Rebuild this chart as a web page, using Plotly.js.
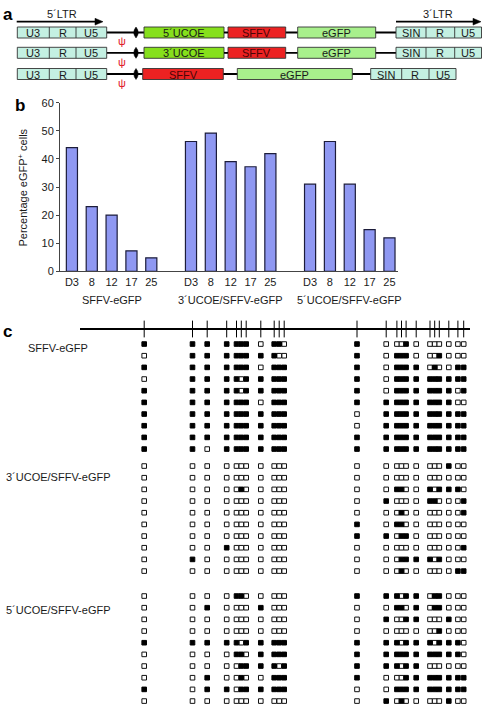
<!DOCTYPE html>
<html><head><meta charset="utf-8">
<script src="https://cdn.plot.ly/plotly-3.0.1.min.js"></script>
<style>html,body{margin:0;padding:0;background:#fff;}#chart{width:482px;height:710px;}</style>
</head><body><div id="chart"></div>
<script>
// ================= DATA =================
// Panel b: % eGFP+ cells at each time point (days)
const timepoints = ['D3', '8', '12', '17', '25'];
const vectors = ['SFFV-eGFP', '3´UCOE/SFFV-eGFP', '5´UCOE/SFFV-eGFP'];
const pctSFFV  = [44.0, 23.0, 20.0, 7.3, 4.8];
const pct3UCOE = [46.2, 49.2, 39.0, 37.2, 41.9];
const pct5UCOE = [31.0, 46.2, 31.0, 14.8, 11.9];

// Panel c: CpG site positions along the SFFV promoter map
const cpgPos = [144.2, 192.5, 207.2, 226.7, 236.5, 241.3, 246.2, 260.8, 274.2, 279.2, 284.2,
                357.0, 386.2, 396.9, 401.5, 406.1, 416.2, 430.0, 434.7, 439.3, 448.8, 457.9, 463.7];
// Methylation per clone (1 = methylated, 0 = unmethylated), one string per clone
const methSFFV = [
  '1 1 1 1 111 0 110 1 0 001 0 000 0 00',
  '0 1 1 1 111 1 100 1 0 111 0 001 0 00',
  '1 1 1 1 111 0 111 1 0 111 1 010 0 11',
  '0 1 1 1 101 1 111 1 0 111 1 111 1 11',
  '1 1 1 1 101 1 111 1 0 111 1 111 1 01',
  '1 1 1 1 111 0 111 1 1 111 1 111 1 00',
  '1 1 1 1 111 1 111 0 1 111 1 111 1 11',
  '1 1 1 1 111 1 111 0 1 111 1 111 1 11',
  '1 1 1 1 111 1 111 1 1 111 1 111 1 11',
  '1 1 0 1 111 1 111 1 1 111 1 111 1 11'
];
const meth3UCOE = [
  '0 0 0 0 000 0 000 0 0 000 0 000 1 00',
  '0 0 0 0 000 0 000 0 0 000 0 000 0 00',
  '0 0 0 0 010 0 000 0 0 110 0 101 1 10',
  '0 0 0 0 000 0 000 0 1 000 0 110 0 01',
  '0 0 0 0 000 0 000 0 0 010 0 000 0 01',
  '0 0 0 0 000 0 000 1 0 110 0 000 0 00',
  '0 0 0 0 000 0 000 1 1 011 0 000 0 00',
  '0 0 0 1 000 0 000 0 0 000 0 000 0 01',
  '0 1 0 0 000 0 000 0 0 011 1 101 0 00',
  '0 0 0 0 000 0 000 0 0 010 0 000 0 11'
];
const meth5UCOE = [
  '0 0 0 0 110 0 000 1 1 101 1 011 0 00',
  '0 0 1 0 000 1 000 0 0 110 1 011 0 00',
  '0 0 0 0 000 0 000 0 1 001 1 000 1 00',
  '0 0 0 0 000 0 000 0 0 000 0 001 0 00',
  '1 1 1 1 101 1 111 1 1 101 1 101 1 10',
  '0 0 0 0 110 1 111 1 1 111 1 111 1 10',
  '0 0 0 0 011 1 101 1 1 101 1 000 0 00',
  '0 0 1 0 010 0 111 1 0 001 1 111 1 11',
  '1 0 1 1 011 1 111 0 0 111 1 111 1 11',
  '0 0 0 0 000 0 000 0 1 010 0 000 1 00'
];

// ================= DRAWING =================
const F = 'Arial, "Liberation Sans", Helvetica, sans-serif';
const INK = '#1a1a1a';
const traces = [];
const shapes = [];
const annotations = [];

// ---- panel b: bars ----
const series = [pctSFFV, pct3UCOE, pct5UCOE];
const slotsPerGroup = timepoints.length + 1;
const barX = [], barY = [], tickVals = [], tickText = [];
series.forEach((vals, g) => {
  vals.forEach((v, i) => {
    const x = g * slotsPerGroup + i;
    barX.push(x); barY.push(v); tickVals.push(x); tickText.push(timepoints[i]);
  });
});
traces.push({
  type: 'bar', x: barX, y: barY, width: 0.56, xaxis: 'x', yaxis: 'y',
  marker: {color: '#8f98f2', line: {color: '#1c1c3a', width: 1.2}},
  hoverinfo: 'skip'
});
vectors.forEach((name, g) => {
  annotations.push({xref: 'x', yref: 'y2', x: g * slotsPerGroup + (timepoints.length - 1) / 2, y: 300,
    text: name, showarrow: false, xanchor: 'center', yanchor: 'middle', font: {family: F, size: 11, color: INK}});
});
annotations.push({xref: 'x2', yref: 'y2', x: 22.5, y: 188, textangle: -90, showarrow: false,
  text: 'Percentage eGFP<sup>+</sup> cells', font: {family: F, size: 11, color: INK}});

// ---- panel a: vector schematics (pixel coordinates on overlay axis) ----
const C = {ltr: '#c4f0e2', ucoe: '#86e01c', sffv: '#ec2222', egfp: '#a8f08c'};
function box(x0, x1, yc, fill, label, tcol) {
  shapes.push({type: 'rect', xref: 'x2', yref: 'y2', x0: x0, x1: x1, y0: yc - 5.5, y1: yc + 5.5,
    fillcolor: fill, line: {color: '#333', width: 0.9}, layer: 'above'});
  if (label) annotations.push({xref: 'x2', yref: 'y2', x: (x0 + x1) / 2, y: yc + 0.5, text: label, showarrow: false,
    font: {family: F, size: 11, color: tcol || INK}, xanchor: 'center', yanchor: 'middle'});
}
function ltr(x0, x1, d1, d2, yc, labels) {
  box(x0, x1, yc, C.ltr, null);
  [d1, d2].forEach(d => shapes.push({type: 'line', xref: 'x2', yref: 'y2', x0: d, x1: d, y0: yc - 5.5, y1: yc + 5.5,
    line: {color: '#333', width: 0.9}, layer: 'above'}));
  const edges = [x0, d1, d2, x1];
  labels.forEach((t, i) => annotations.push({xref: 'x2', yref: 'y2', x: (edges[i] + edges[i + 1]) / 2, y: yc + 0.5,
    text: t, showarrow: false, font: {family: F, size: 11, color: INK}, xanchor: 'center', yanchor: 'middle'}));
}
function construct(yc, psiY, parts, ltr3) {
  shapes.push({type: 'line', xref: 'x2', yref: 'y2', x0: 106.7, x1: ltr3[0], y0: yc, y1: yc,
    line: {color: '#000', width: 1.8}});
  ltr(17.3, 106.7, 49.3, 76, yc, ['U3', 'R', 'U5']);
  shapes.push({type: 'path', xref: 'x2', yref: 'y2',
    path: `M136,${yc - 5.5} Q140.5,${yc} 136,${yc + 5.5} Q131.5,${yc} 136,${yc - 5.5} Z`,
    fillcolor: '#000', line: {color: '#000', width: 0.5}});
  annotations.push({xref: 'x2', yref: 'y2', x: 121.7, y: psiY, text: 'ψ', showarrow: false,
    font: {family: F, size: 11, color: '#e0202a'}, xanchor: 'center', yanchor: 'middle'});
  parts.forEach(p => box(p[0], p[1], yc, p[2], p[3], p[4]));
  ltr(ltr3[0], ltr3[1], ltr3[2], ltr3[3], yc, ['SIN', 'R', 'U5']);
}
construct(32.5, 41, [[144, 224, C.ucoe, '5´UCOE'], [228, 285.7, C.sffv, 'SFFV', '#4a0606'], [297.7, 375.7, C.egfp, 'eGFP']],
  [396, 481.5, 426, 454.7]);
construct(52.8, 61.7, [[144, 224, C.ucoe, '3´UCOE'], [228, 285.7, C.sffv, 'SFFV', '#4a0606'], [297.7, 375.7, C.egfp, 'eGFP']],
  [396, 481.5, 426, 454.7]);
construct(74, 82.7, [[142.7, 223.3, C.sffv, 'SFFV', '#4a0606'], [237.3, 352.3, C.egfp, 'eGFP']],
  [370.7, 456, 401.7, 429]);
// connectors between UCOE and SFFV boxes
[32.5, 52.8].forEach(yc => shapes.push({type: 'line', xref: 'x2', yref: 'y2', x0: 224, x1: 228, y0: yc, y1: yc,
  line: {color: '#000', width: 1}}));
// LTR arrows
[[16.7, 96, 61.7, '5´LTR'], [396, 474, 438, '3´LTR']].forEach(a => {
  shapes.push({type: 'line', xref: 'x2', yref: 'y2', x0: a[0], x1: a[1], y0: 21.7, y1: 21.7, line: {color: '#000', width: 1.8}});
  shapes.push({type: 'path', xref: 'x2', yref: 'y2', path: `M${a[1] - 1},18.3 L${a[1] + 7},21.7 L${a[1] - 1},25.1 Z`,
    fillcolor: '#000', line: {color: '#000', width: 0.5}});
  annotations.push({xref: 'x2', yref: 'y2', x: a[2], y: 13.5, text: a[3], showarrow: false,
    font: {family: F, size: 11, color: INK}, xanchor: 'center', yanchor: 'middle'});
});

// ---- panel c: CpG map line + methylation squares ----
shapes.push({type: 'line', xref: 'x2', yref: 'y2', x0: 80, x1: 470, y0: 329, y1: 329, line: {color: '#000', width: 2}});
traces.push({type: 'scatter', mode: 'markers', xaxis: 'x2', yaxis: 'y2', x: cpgPos, y: cpgPos.map(() => 329),
  marker: {symbol: 'line-ns', size: 12, line: {color: '#000', width: 1}}, hoverinfo: 'skip'});
const groups = [methSFFV, meth3UCOE, meth5UCOE];
const yAxes = ['y3', 'y4', 'y5'];
groups.forEach((rows, g) => {
  const filled = {x: [], y: []}, open = {x: [], y: []};
  rows.forEach((r, ri) => {
    r.replace(/\s/g, '').split('').forEach((c, si) => {
      const tgt = c === '1' ? filled : open;
      tgt.x.push(cpgPos[si]); tgt.y.push(ri);
    });
  });
  traces.push({type: 'scatter', mode: 'markers', xaxis: 'x2', yaxis: yAxes[g], x: open.x, y: open.y,
    marker: {symbol: 'square', size: 4.6, color: '#fff', line: {color: '#111', width: 1}}, hoverinfo: 'skip'});
  traces.push({type: 'scatter', mode: 'markers', xaxis: 'x2', yaxis: yAxes[g], x: filled.x, y: filled.y,
    marker: {symbol: 'square', size: 4.6, color: '#000', line: {color: '#000', width: 1}}, hoverinfo: 'skip'});
});
[[348.3, 0], [476.7, 1], [610, 2]].forEach(p => annotations.push({xref: 'x2', yref: 'y2', x: 58, y: p[0],
  text: vectors[p[1]], showarrow: false, font: {family: F, size: 11, color: INK}, xanchor: 'center', yanchor: 'middle'}));

// panel letters
[['a', 1, 14], ['b', 13, 105], ['c', 1, 331]].forEach(l => annotations.push({xref: 'x2', yref: 'y2', x: l[1], y: l[2],
  text: '<b>' + l[0] + '</b>', showarrow: false, xanchor: 'left', yanchor: 'middle', font: {family: F, size: 17, color: '#000'}}));

const H = 710, W = 482;
const hidden = {visible: false, fixedrange: true};
const rowAxis = (topPx, botPx) => Object.assign({anchor: 'x2', range: [9.5, -0.5], domain: [1 - botPx / H, 1 - topPx / H]}, hidden);
const layout = {
  width: W, height: H, margin: {l: 0, r: 0, t: 0, b: 0}, showlegend: false,
  paper_bgcolor: '#fff', plot_bgcolor: 'rgba(0,0,0,0)', font: {family: F, size: 11, color: INK},
  xaxis: {domain: [60 / W, 398 / W], anchor: 'y', range: [-0.6, 16.43], showline: true, linecolor: '#444', linewidth: 1,
    tickvals: tickVals, ticktext: tickText, ticks: '', showgrid: false, zeroline: false, fixedrange: true,
    tickfont: {family: F, size: 11, color: INK}},
  yaxis: {domain: [1 - 271.3 / H, 1 - 102.7 / H], anchor: 'x', range: [0, 60], tickvals: [0, 10, 20, 30, 40, 50, 60],
    showline: true, linecolor: '#444', linewidth: 1, ticks: 'outside', ticklen: 3, tickcolor: '#444',
    showgrid: false, zeroline: false, fixedrange: true, tickfont: {family: F, size: 11, color: INK}},
  xaxis2: Object.assign({domain: [0, 1], anchor: 'y2', range: [0, W]}, hidden),
  yaxis2: Object.assign({domain: [0, 1], anchor: 'x2', range: [H, 0]}, hidden),
  yaxis3: rowAxis(338.2, 454.9),
  yaxis4: rowAxis(460.2, 576.9),
  yaxis5: rowAxis(590.2, 706.9),
  shapes: shapes, annotations: annotations
};
Plotly.newPlot('chart', traces, layout, {staticPlot: true, displayModeBar: false});
</script></body></html>
